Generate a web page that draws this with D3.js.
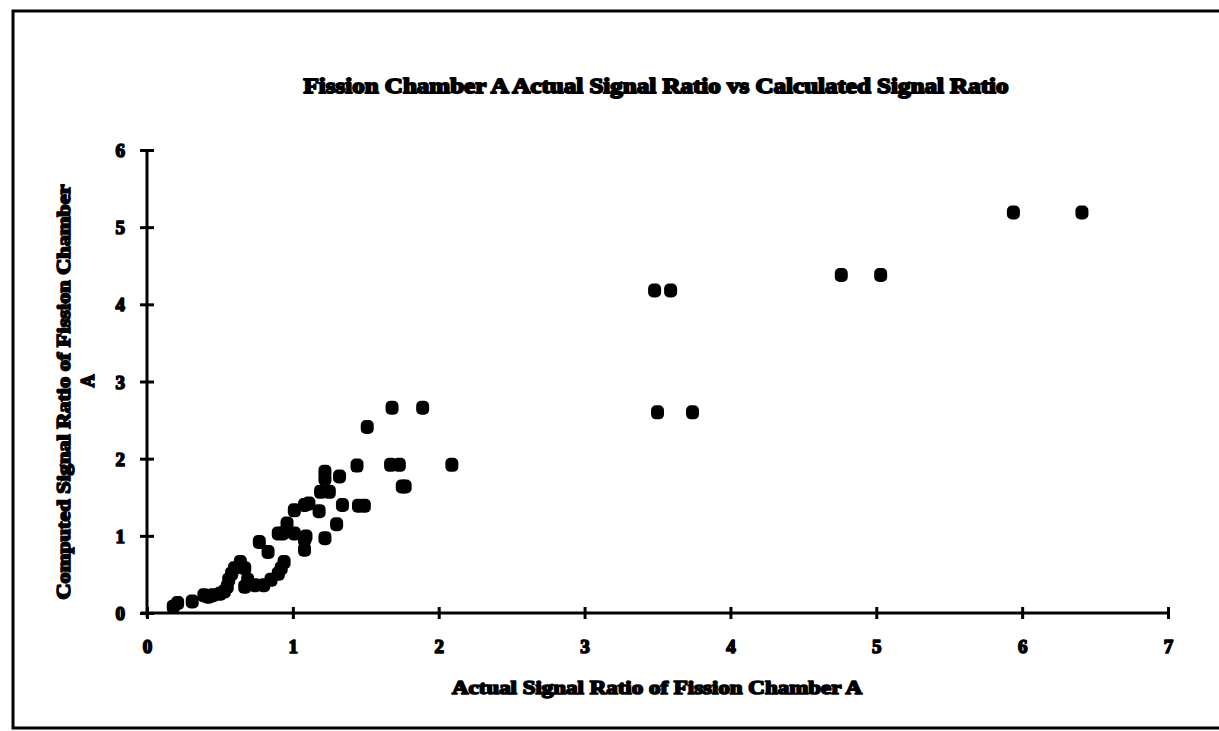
<!DOCTYPE html>
<html lang="en">
<head>
  <meta charset="UTF-8">
  <title>Fission Chamber A Signal Ratio</title>
  <script src="https://d3js.org/d3.v7.min.js"></script>
  <style>
    body { margin: 0; background: #fff; }
    text { font-family: "Liberation Serif", "Times New Roman", serif; font-weight: bold; fill: #000; stroke-linejoin: round; }
  </style>
</head>
<body>
  <svg id="chart" width="1219" height="731"></svg>

  <script>
    // Actual signal ratio (x) vs computed signal ratio (y)
    const actual = [
      3.48, 3.59, 3.50, 3.74, 4.76, 5.03, 5.94, 6.41,
      1.68, 1.89, 1.51, 1.44, 1.67, 1.73, 2.09, 1.75, 1.77,
      1.22, 1.22, 1.32, 1.19, 1.25, 1.34, 1.45, 1.49, 1.18, 1.30, 1.22, 1.08,
      1.01, 1.08, 1.11, 0.96, 1.01, 1.09, 0.93, 0.90, 1.08,
      0.94, 0.92, 0.77, 0.83,
      0.64, 0.60, 0.58, 0.56, 0.55, 0.53,
      0.67, 0.69, 0.67, 0.74, 0.80, 0.85, 0.90,
      0.42, 0.45, 0.39, 0.31, 0.21, 0.18, 0.50
    ];
    const computed = [
      4.18, 4.18, 2.60, 2.60, 4.38, 4.38, 5.19, 5.19,
      2.66, 2.66, 2.41, 1.91, 1.92, 1.92, 1.92, 1.64, 1.64,
      1.83, 1.74, 1.77, 1.57, 1.57, 1.40, 1.39, 1.39, 1.32, 1.15, 0.97, 0.82,
      1.33, 1.40, 1.42, 1.16, 1.03, 0.99, 1.03, 1.03, 0.95,
      0.66, 0.58, 0.92, 0.79,
      0.66, 0.58, 0.51, 0.43, 0.34, 0.28,
      0.58, 0.43, 0.34, 0.36, 0.36, 0.43, 0.51,
      0.21, 0.23, 0.23, 0.15, 0.13, 0.08, 0.25
    ];
    const xTicks = [0, 1, 2, 3, 4, 5, 6, 7];
    const yTicks = [0, 1, 2, 3, 4, 5, 6];

    const titleText = "Fission Chamber A Actual Signal Ratio vs Calculated Signal Ratio";
    const xLabel = "Actual Signal Ratio of Fission Chamber A";
    const yLabel1 = "Computed Signal Ratio of Fission Chamber";
    const yLabel2 = "A";

    const svg = d3.select("#chart");

    // outer frame of the chart area (right edge runs off the page)
    svg.append("path")
      .attr("d", "M1225,11 L13,11 L13,728 L1225,728")
      .attr("fill", "none")
      .attr("stroke", "#000")
      .attr("stroke-width", 3);

    const x = d3.scaleLinear().domain([0, 7]).range([147, 1168]);
    const y = d3.scaleLinear().domain([0, 6]).range([613, 150]);

    // axes: thick line, ticks crossing the line
    const xAxis = d3.axisBottom(x).tickValues(xTicks).tickSize(0).tickFormat("");
    const yAxis = d3.axisLeft(y).tickValues(yTicks).tickSize(0).tickFormat("");

    const gx = svg.append("g").attr("transform", `translate(0,${y(0)})`).call(xAxis);
    gx.select(".domain").attr("stroke-width", 3).attr("d", `M${x(0) - 6},0H${x(7)}`);
    gx.selectAll(".tick").append("line")
      .attr("y1", -6).attr("y2", 6)
      .attr("stroke", "#000").attr("stroke-width", 3);
    gx.selectAll(".tick").append("text")
      .attr("y", 40)
      .attr("text-anchor", "middle")
      .style("font-size", "19px")
      .attr("stroke", "#000").attr("stroke-width", 1.6)
      .text(d => d);

    const gy = svg.append("g").attr("transform", `translate(${x(0)},0)`).call(yAxis);
    gy.select(".domain").attr("stroke-width", 3).attr("d", `M0,${y(6)}V${y(0) + 4}`);
    gy.selectAll(".tick").append("line")
      .attr("x1", -7).attr("x2", 7)
      .attr("stroke", "#000").attr("stroke-width", 3);
    gy.selectAll(".tick").append("text")
      .attr("x", -22)
      .attr("dy", "0.35em")
      .attr("text-anchor", "end")
      .style("font-size", "19px")
      .attr("stroke", "#000").attr("stroke-width", 1.6)
      .text(d => d);

    // markers: rounded squares
    const pts = actual.map((v, i) => ({ x: v, y: computed[i] }));
    svg.append("g").selectAll("rect")
      .data(pts)
      .enter()
      .append("rect")
      .attr("x", d => x(d.x) - 6.5)
      .attr("y", d => y(d.y) - 7)
      .attr("width", 13)
      .attr("height", 14)
      .attr("rx", 5)
      .attr("fill", "#000");

    // title
    svg.append("text")
      .attr("x", 656)
      .attr("y", 93)
      .attr("text-anchor", "middle")
      .attr("textLength", 705)
      .attr("lengthAdjust", "spacingAndGlyphs")
      .style("font-size", "21px")
      .attr("stroke", "#000").attr("stroke-width", 1.8)
      .text(titleText);

    // x axis label
    svg.append("text")
      .attr("x", 657)
      .attr("y", 694)
      .attr("text-anchor", "middle")
      .attr("textLength", 410)
      .attr("lengthAdjust", "spacingAndGlyphs")
      .style("font-size", "18px")
      .attr("stroke", "#000").attr("stroke-width", 1.6)
      .text(xLabel);

    // y axis label, two lines
    svg.append("text")
      .attr("transform", "translate(70,392) rotate(-90)")
      .attr("text-anchor", "middle")
      .attr("textLength", 415)
      .attr("lengthAdjust", "spacingAndGlyphs")
      .style("font-size", "18px")
      .attr("stroke", "#000").attr("stroke-width", 1.6)
      .text(yLabel1);
    svg.append("text")
      .attr("transform", "translate(94,381) rotate(-90)")
      .attr("text-anchor", "middle")
      .style("font-size", "18px")
      .attr("stroke", "#000").attr("stroke-width", 1.6)
      .text(yLabel2);
  </script>
</body>
</html>
